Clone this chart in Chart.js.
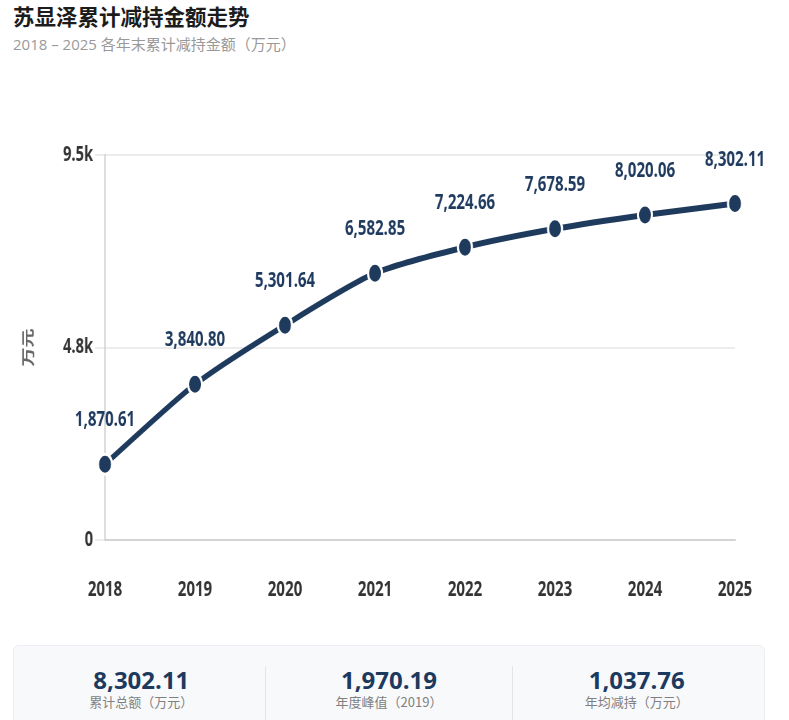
<!DOCTYPE html>
<html>
<head>
<meta charset="utf-8">
<script src="https://cdn.jsdelivr.net/npm/chart.js@4.4.1/dist/chart.umd.min.js"></script>
<style>
  html, body { margin:0; padding:0; background:#fff; width:789px; height:720px; overflow:hidden;
    font-family:"Open Sans","Noto Sans CJK SC",sans-serif; }
  #title { position:absolute; left:13px; top:0px; font-size:21.5px; font-weight:bold; color:#1c1c1c;
    font-family:"Noto Sans CJK SC","Open Sans",sans-serif; line-height:32px; }
  #subtitle { position:absolute; left:13px; top:33px; font-size:15px; color:#999; line-height:22px;
    font-family:"Open Sans","Noto Sans CJK SC",sans-serif; }
  #chartWrap { position:absolute; left:0; top:60px; width:1127px; height:570px;
    transform:scaleX(0.7); transform-origin:0 0; }
  #panel { position:absolute; left:13px; top:645px; width:752px; height:100px; box-sizing:border-box;
    background:#f8f9fb; border:1px solid #eceef2; border-radius:6px; padding:20px 4px 0 4px;
    display:flex; }
  .col { flex:1; text-align:center; }
  .col + .col { border-left:1px solid #e3e5e9; }
  .val { font-size:24px; font-weight:bold; color:#1c3a5e; line-height:27px; font-family:"Open Sans",sans-serif; }
  .lab { font-size:13px; color:#808080; line-height:17px; margin-top:0px; font-family:"Noto Sans CJK SC","Open Sans",sans-serif; }
</style>
</head>
<body>
<div id="title">苏显泽累计减持金额走势</div>
<div id="subtitle">2018 – 2025 各年末累计减持金额（万元）</div>
<div id="chartWrap"><canvas id="c"></canvas></div>
<div id="panel">
  <div class="col"><div class="val" id="v1"></div><div class="lab">累计总额（万元）</div></div>
  <div class="col"><div class="val" id="v2"></div><div class="lab">年度峰值（2019）</div></div>
  <div class="col"><div class="val" id="v3"></div><div class="lab">年均减持（万元）</div></div>
</div>
<script>
const years = ['2018','2019','2020','2021','2022','2023','2024','2025'];
const cumulative = [1870.61, 3840.80, 5301.64, 6582.85, 7224.66, 7678.59, 8020.06, 8302.11];
const yTickValues = [0, 4750, 9500];
const yTickLabels = ['0', '4.8k', '9.5k'];
const statValues = ['8,302.11', '1,970.19', '1,037.76'];

document.getElementById('v1').textContent = statValues[0];
document.getElementById('v2').textContent = statValues[1];
document.getElementById('v3').textContent = statValues[2];

const fmt = v => v.toLocaleString('en-US', {minimumFractionDigits:2, maximumFractionDigits:2});

const valueLabels = {
  id: 'valueLabels',
  afterDatasetsDraw(chart) {
    const ctx = chart.ctx;
    const meta = chart.getDatasetMeta(0);
    ctx.save();
    ctx.font = 'bold 21.5px "Open Sans"';
    ctx.fillStyle = '#1f3a5f';
    ctx.textAlign = 'center';
    ctx.textBaseline = 'middle';
    meta.data.forEach((pt, i) => {
      ctx.fillText(fmt(cumulative[i]), pt.x, pt.y - 44);
    });
    ctx.restore();
  }
};

new Chart(document.getElementById('c'), {
  type: 'line',
  data: {
    labels: years,
    datasets: [{
      data: cumulative,
      borderColor: '#1e3a5c',
      borderWidth: 6,
      tension: 0.25,
      pointRadius: 10,
      pointHoverRadius: 10,
      pointBackgroundColor: '#1e3a5c',
      pointBorderColor: '#ffffff',
      pointBorderWidth: 3,
      fill: false
    }]
  },
  options: {
    responsive: true,
    maintainAspectRatio: false,
    animation: false,
    layout: { padding: { left: 0, right: 77, top: 95, bottom: 28 } },
    plugins: { legend: { display:false }, tooltip: { enabled:false } },
    scales: {
      x: {
        type: 'category',
        offset: false,
        afterFit(scale) { scale.height = 62; },
        grid: { display: true, color: 'transparent', drawTicks: false },
        border: { display: true, color: '#d4d4d4', width: 2 },
        ticks: { color: '#333', font: { family: 'Open Sans', size: 21.5, weight: 'bold' }, padding: 37, maxRotation: 0 }
      },
      y: {
        min: 0, max: 9500,
        afterBuildTicks(scale) { scale.ticks = yTickValues.map(v => ({ value: v })); },
        afterFit(scale) { scale.width = 150; },
        grid: { color: '#ececec', lineWidth: 2, tickLength: 14, drawTicks: true },
        border: { display: true, color: '#d4d4d4', width: 2 },
        ticks: {
          color: '#333', padding: 3,
          font: { family: 'Open Sans', size: 21, weight: 'bold' },
          callback(v) { const i = yTickValues.indexOf(v); return i >= 0 ? yTickLabels[i] : ''; }
        },
        title: { display: true, text: '万元', color: '#666',
          font: { family: 'Noto Sans CJK SC', size: 19, weight: 'bold' }, padding: { top: 28, bottom: 0 } }
      }
    }
  },
  plugins: [valueLabels]
});
</script>
</body>
</html>
